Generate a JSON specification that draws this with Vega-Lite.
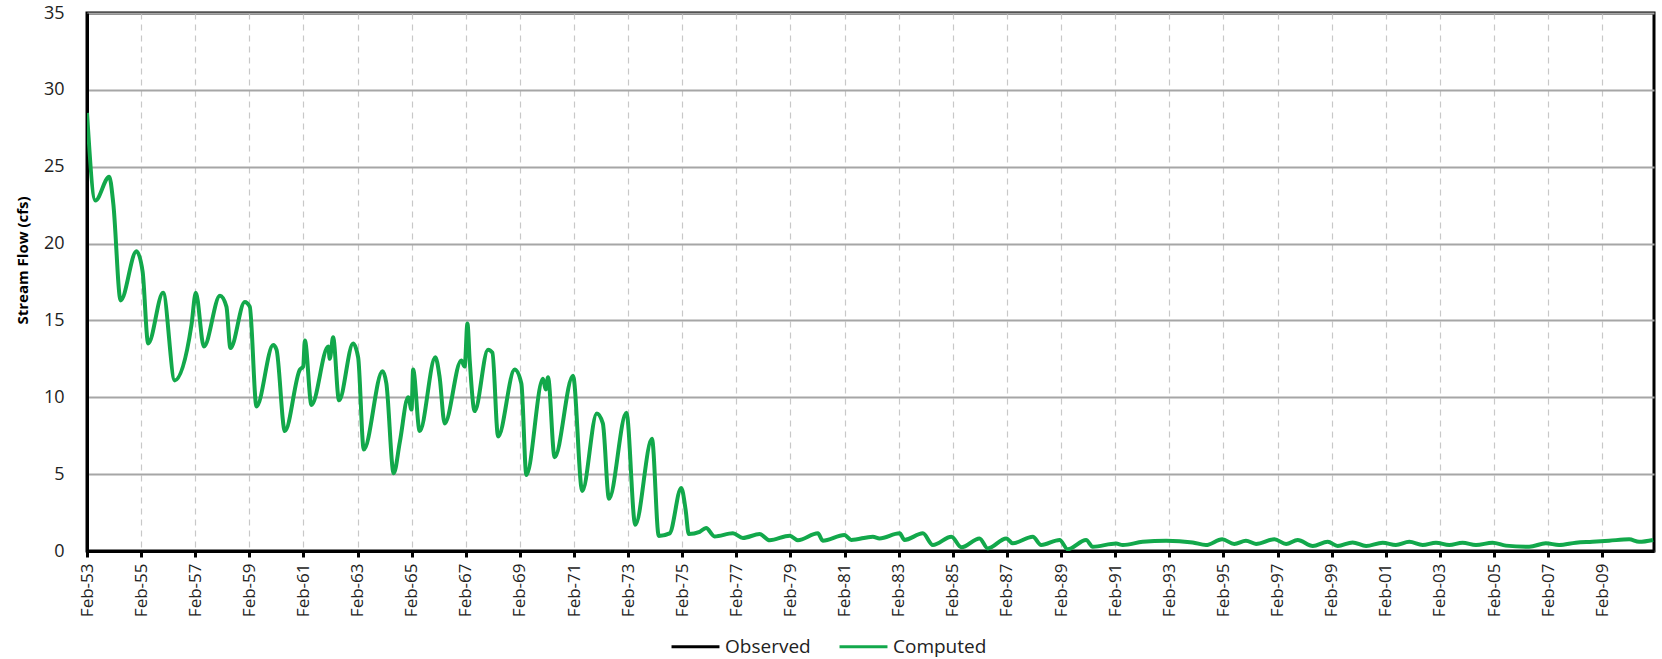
{
  "$schema": "https://vega.github.io/schema/vega-lite/v6.json",
  "width": 1567,
  "height": 538,
  "autosize": {"type": "none"},
  "padding": {"left": 87, "top": 13, "right": 8, "bottom": 108},
  "background": "#ffffff",
  "config": {
    "view": {"stroke": "#000000", "strokeWidth": 3},
    "font": "Open Sans"
  },
  "data": {
    "values": [
      {"date": "1953-02-01", "flow": 28.5, "series": "Computed"},
      {"date": "1953-05-25", "flow": 22.8, "series": "Computed"},
      {"date": "1953-11-28", "flow": 24.35, "series": "Computed"},
      {"date": "1954-01-22", "flow": 22.6, "series": "Computed"},
      {"date": "1954-05-01", "flow": 16.3, "series": "Computed"},
      {"date": "1954-12-01", "flow": 19.5, "series": "Computed"},
      {"date": "1955-02-21", "flow": 18.2, "series": "Computed"},
      {"date": "1955-05-08", "flow": 13.5, "series": "Computed"},
      {"date": "1955-11-25", "flow": 16.8, "series": "Computed"},
      {"date": "1956-05-01", "flow": 11.1, "series": "Computed"},
      {"date": "1956-12-12", "flow": 14.7, "series": "Computed"},
      {"date": "1957-02-09", "flow": 16.8, "series": "Computed"},
      {"date": "1957-05-29", "flow": 13.3, "series": "Computed"},
      {"date": "1958-01-01", "flow": 16.6, "series": "Computed"},
      {"date": "1958-03-29", "flow": 15.9, "series": "Computed"},
      {"date": "1958-05-22", "flow": 13.2, "series": "Computed"},
      {"date": "1958-12-02", "flow": 16.2, "series": "Computed"},
      {"date": "1959-02-07", "flow": 15.9, "series": "Computed"},
      {"date": "1959-05-09", "flow": 9.4, "series": "Computed"},
      {"date": "1959-12-20", "flow": 13.4, "series": "Computed"},
      {"date": "1960-02-03", "flow": 13.1, "series": "Computed"},
      {"date": "1960-05-26", "flow": 7.8, "series": "Computed"},
      {"date": "1960-12-15", "flow": 11.8, "series": "Computed"},
      {"date": "1961-01-28", "flow": 12.0, "series": "Computed"},
      {"date": "1961-02-20", "flow": 13.7, "series": "Computed"},
      {"date": "1961-05-20", "flow": 9.5, "series": "Computed"},
      {"date": "1962-01-01", "flow": 13.3, "series": "Computed"},
      {"date": "1962-01-22", "flow": 12.5, "series": "Computed"},
      {"date": "1962-03-08", "flow": 13.9, "series": "Computed"},
      {"date": "1962-05-27", "flow": 9.8, "series": "Computed"},
      {"date": "1962-12-03", "flow": 13.5, "series": "Computed"},
      {"date": "1963-02-09", "flow": 12.6, "series": "Computed"},
      {"date": "1963-04-26", "flow": 6.6, "series": "Computed"},
      {"date": "1964-01-04", "flow": 11.7, "series": "Computed"},
      {"date": "1964-02-25", "flow": 10.9, "series": "Computed"},
      {"date": "1964-06-03", "flow": 5.05, "series": "Computed"},
      {"date": "1964-08-25", "flow": 7.1, "series": "Computed"},
      {"date": "1964-12-15", "flow": 10.0, "series": "Computed"},
      {"date": "1965-01-30", "flow": 9.2, "series": "Computed"},
      {"date": "1965-02-20", "flow": 11.8, "series": "Computed"},
      {"date": "1965-05-20", "flow": 7.8, "series": "Computed"},
      {"date": "1965-12-17", "flow": 12.6, "series": "Computed"},
      {"date": "1966-02-13", "flow": 11.3, "series": "Computed"},
      {"date": "1966-04-22", "flow": 8.3, "series": "Computed"},
      {"date": "1966-12-02", "flow": 12.4, "series": "Computed"},
      {"date": "1967-01-17", "flow": 12.0, "series": "Computed"},
      {"date": "1967-02-23", "flow": 14.8, "series": "Computed"},
      {"date": "1967-03-26", "flow": 12.4, "series": "Computed"},
      {"date": "1967-06-01", "flow": 9.1, "series": "Computed"},
      {"date": "1967-11-28", "flow": 13.1, "series": "Computed"},
      {"date": "1968-01-26", "flow": 12.9, "series": "Computed"},
      {"date": "1968-04-12", "flow": 7.45, "series": "Computed"},
      {"date": "1968-11-22", "flow": 11.8, "series": "Computed"},
      {"date": "1969-02-20", "flow": 10.9, "series": "Computed"},
      {"date": "1969-04-29", "flow": 4.95, "series": "Computed"},
      {"date": "1969-12-09", "flow": 11.2, "series": "Computed"},
      {"date": "1970-01-15", "flow": 10.5, "series": "Computed"},
      {"date": "1970-02-15", "flow": 11.3, "series": "Computed"},
      {"date": "1970-05-15", "flow": 6.1, "series": "Computed"},
      {"date": "1971-01-18", "flow": 11.4, "series": "Computed"},
      {"date": "1971-05-23", "flow": 3.9, "series": "Computed"},
      {"date": "1971-12-06", "flow": 8.95, "series": "Computed"},
      {"date": "1972-02-25", "flow": 8.3, "series": "Computed"},
      {"date": "1972-05-18", "flow": 3.4, "series": "Computed"},
      {"date": "1973-01-08", "flow": 9.0, "series": "Computed"},
      {"date": "1973-05-08", "flow": 1.7, "series": "Computed"},
      {"date": "1973-12-19", "flow": 7.3, "series": "Computed"},
      {"date": "1974-03-21", "flow": 0.98, "series": "Computed"},
      {"date": "1974-08-15", "flow": 1.15, "series": "Computed"},
      {"date": "1975-01-18", "flow": 4.1, "series": "Computed"},
      {"date": "1975-03-18", "flow": 2.7, "series": "Computed"},
      {"date": "1975-04-30", "flow": 1.1, "series": "Computed"},
      {"date": "1975-09-24", "flow": 1.25, "series": "Computed"},
      {"date": "1975-12-19", "flow": 1.5, "series": "Computed"},
      {"date": "1976-04-12", "flow": 0.95, "series": "Computed"},
      {"date": "1976-12-16", "flow": 1.15, "series": "Computed"},
      {"date": "1977-04-30", "flow": 0.85, "series": "Computed"},
      {"date": "1977-12-12", "flow": 1.1, "series": "Computed"},
      {"date": "1978-04-26", "flow": 0.7, "series": "Computed"},
      {"date": "1979-01-22", "flow": 1.0, "series": "Computed"},
      {"date": "1979-05-12", "flow": 0.7, "series": "Computed"},
      {"date": "1980-02-06", "flow": 1.15, "series": "Computed"},
      {"date": "1980-04-12", "flow": 0.67, "series": "Computed"},
      {"date": "1981-01-29", "flow": 1.04, "series": "Computed"},
      {"date": "1981-04-30", "flow": 0.72, "series": "Computed"},
      {"date": "1982-02-17", "flow": 0.93, "series": "Computed"},
      {"date": "1982-05-18", "flow": 0.82, "series": "Computed"},
      {"date": "1983-02-13", "flow": 1.15, "series": "Computed"},
      {"date": "1983-04-20", "flow": 0.72, "series": "Computed"},
      {"date": "1983-12-24", "flow": 1.15, "series": "Computed"},
      {"date": "1984-05-07", "flow": 0.39, "series": "Computed"},
      {"date": "1985-01-12", "flow": 0.93, "series": "Computed"},
      {"date": "1985-05-27", "flow": 0.24, "series": "Computed"},
      {"date": "1986-01-27", "flow": 0.82, "series": "Computed"},
      {"date": "1986-05-18", "flow": 0.17, "series": "Computed"},
      {"date": "1987-01-23", "flow": 0.82, "series": "Computed"},
      {"date": "1987-04-20", "flow": 0.5, "series": "Computed"},
      {"date": "1988-01-15", "flow": 0.93, "series": "Computed"},
      {"date": "1988-05-08", "flow": 0.39, "series": "Computed"},
      {"date": "1989-01-12", "flow": 0.72, "series": "Computed"},
      {"date": "1989-05-01", "flow": 0.11, "series": "Computed"},
      {"date": "1990-01-04", "flow": 0.72, "series": "Computed"},
      {"date": "1990-04-04", "flow": 0.28, "series": "Computed"},
      {"date": "1991-02-14", "flow": 0.48, "series": "Computed"},
      {"date": "1991-05-15", "flow": 0.39, "series": "Computed"},
      {"date": "1992-02-07", "flow": 0.6, "series": "Computed"},
      {"date": "1992-12-20", "flow": 0.67, "series": "Computed"},
      {"date": "1993-12-13", "flow": 0.56, "series": "Computed"},
      {"date": "1994-06-10", "flow": 0.39, "series": "Computed"},
      {"date": "1995-01-16", "flow": 0.76, "series": "Computed"},
      {"date": "1995-06-27", "flow": 0.46, "series": "Computed"},
      {"date": "1995-12-02", "flow": 0.67, "series": "Computed"},
      {"date": "1996-04-16", "flow": 0.46, "series": "Computed"},
      {"date": "1996-12-20", "flow": 0.76, "series": "Computed"},
      {"date": "1997-05-27", "flow": 0.46, "series": "Computed"},
      {"date": "1997-10-30", "flow": 0.72, "series": "Computed"},
      {"date": "1998-05-22", "flow": 0.33, "series": "Computed"},
      {"date": "1998-12-10", "flow": 0.6, "series": "Computed"},
      {"date": "1999-04-23", "flow": 0.33, "series": "Computed"},
      {"date": "1999-11-11", "flow": 0.56, "series": "Computed"},
      {"date": "2000-05-11", "flow": 0.33, "series": "Computed"},
      {"date": "2000-12-20", "flow": 0.54, "series": "Computed"},
      {"date": "2001-06-17", "flow": 0.39, "series": "Computed"},
      {"date": "2001-12-15", "flow": 0.6, "series": "Computed"},
      {"date": "2002-06-13", "flow": 0.39, "series": "Computed"},
      {"date": "2002-12-10", "flow": 0.54, "series": "Computed"},
      {"date": "2003-06-07", "flow": 0.39, "series": "Computed"},
      {"date": "2003-12-04", "flow": 0.54, "series": "Computed"},
      {"date": "2004-06-02", "flow": 0.39, "series": "Computed"},
      {"date": "2005-01-12", "flow": 0.54, "series": "Computed"},
      {"date": "2005-07-11", "flow": 0.35, "series": "Computed"},
      {"date": "2006-05-22", "flow": 0.28, "series": "Computed"},
      {"date": "2007-01-01", "flow": 0.5, "series": "Computed"},
      {"date": "2007-06-28", "flow": 0.39, "series": "Computed"},
      {"date": "2008-02-10", "flow": 0.54, "series": "Computed"},
      {"date": "2008-09-21", "flow": 0.6, "series": "Computed"},
      {"date": "2009-05-04", "flow": 0.67, "series": "Computed"},
      {"date": "2010-01-30", "flow": 0.76, "series": "Computed"},
      {"date": "2010-06-13", "flow": 0.6, "series": "Computed"},
      {"date": "2010-12-20", "flow": 0.72, "series": "Computed"}
    ]
  },
  "mark": {"type": "line", "strokeWidth": 4, "strokeJoin": "round", "interpolate": "monotone", "clip": true},
  "encoding": {
    "x": {
      "field": "date",
      "type": "temporal",
      "scale": {
        "type": "utc",
        "domain": [
          {"year": 1953, "month": 2, "date": 1, "utc": true},
          {"year": 2010, "month": 12, "date": 31, "utc": true}
        ]
      },
      "axis": {
        "title": null,
        "values": [
          {"year": 1953, "month": 2, "date": 1, "utc": true},
          {"year": 1955, "month": 2, "date": 1, "utc": true},
          {"year": 1957, "month": 2, "date": 1, "utc": true},
          {"year": 1959, "month": 2, "date": 1, "utc": true},
          {"year": 1961, "month": 2, "date": 1, "utc": true},
          {"year": 1963, "month": 2, "date": 1, "utc": true},
          {"year": 1965, "month": 2, "date": 1, "utc": true},
          {"year": 1967, "month": 2, "date": 1, "utc": true},
          {"year": 1969, "month": 2, "date": 1, "utc": true},
          {"year": 1971, "month": 2, "date": 1, "utc": true},
          {"year": 1973, "month": 2, "date": 1, "utc": true},
          {"year": 1975, "month": 2, "date": 1, "utc": true},
          {"year": 1977, "month": 2, "date": 1, "utc": true},
          {"year": 1979, "month": 2, "date": 1, "utc": true},
          {"year": 1981, "month": 2, "date": 1, "utc": true},
          {"year": 1983, "month": 2, "date": 1, "utc": true},
          {"year": 1985, "month": 2, "date": 1, "utc": true},
          {"year": 1987, "month": 2, "date": 1, "utc": true},
          {"year": 1989, "month": 2, "date": 1, "utc": true},
          {"year": 1991, "month": 2, "date": 1, "utc": true},
          {"year": 1993, "month": 2, "date": 1, "utc": true},
          {"year": 1995, "month": 2, "date": 1, "utc": true},
          {"year": 1997, "month": 2, "date": 1, "utc": true},
          {"year": 1999, "month": 2, "date": 1, "utc": true},
          {"year": 2001, "month": 2, "date": 1, "utc": true},
          {"year": 2003, "month": 2, "date": 1, "utc": true},
          {"year": 2005, "month": 2, "date": 1, "utc": true},
          {"year": 2007, "month": 2, "date": 1, "utc": true},
          {"year": 2009, "month": 2, "date": 1, "utc": true}
        ],
        "format": "%b-%y",
        "labelAngle": -90,
        "labelAlign": "right",
        "labelBaseline": "middle",
        "labelFont": "Open Sans",
        "labelFontSize": 17,
        "labelColor": "#222222",
        "labelPadding": 6,
        "labelOverlap": false,
        "labelFlush": false,
        "domain": true,
        "domainColor": "#000000",
        "domainWidth": 3,
        "ticks": true,
        "tickColor": "#000000",
        "tickWidth": 3,
        "tickSize": 6,
        "grid": true,
        "gridColor": "#c8c8c8",
        "gridDash": [6, 5],
        "gridWidth": 1.2
      }
    },
    "y": {
      "field": "flow",
      "type": "quantitative",
      "scale": {"domain": [0, 35], "nice": false, "zero": true},
      "axis": {
        "title": "Stream Flow (cfs)",
        "titleFont": "Open Sans",
        "titleFontSize": 15,
        "titleFontWeight": "bold",
        "titleColor": "#000000",
        "titleAngle": -90,
        "titleX": -65,
        "titleY": 247,
        "titleAlign": "center",
        "titleBaseline": "middle",
        "values": [0, 5, 10, 15, 20, 25, 30, 35],
        "labelFont": "Open Sans",
        "labelFontSize": 18,
        "labelColor": "#222222",
        "labelPadding": 23,
        "ticks": false,
        "domain": true,
        "domainColor": "#000000",
        "domainWidth": 3,
        "grid": true,
        "gridColor": "#a6a6a6",
        "gridWidth": 1.8
      }
    },
    "color": {
      "field": "series",
      "type": "nominal",
      "scale": {"domain": ["Observed", "Computed"], "range": ["#000000", "#12A84B"]},
      "legend": {
        "title": null,
        "orient": "none",
        "direction": "horizontal",
        "legendX": 583,
        "legendY": 608,
        "symbolType": "stroke",
        "symbolSize": 2300,
        "symbolStrokeWidth": 3,
        "labelFont": "Open Sans",
        "labelFontSize": 19,
        "labelColor": "#222222",
        "labelOffset": 4,
        "columnPadding": 22
      }
    }
  }
}
